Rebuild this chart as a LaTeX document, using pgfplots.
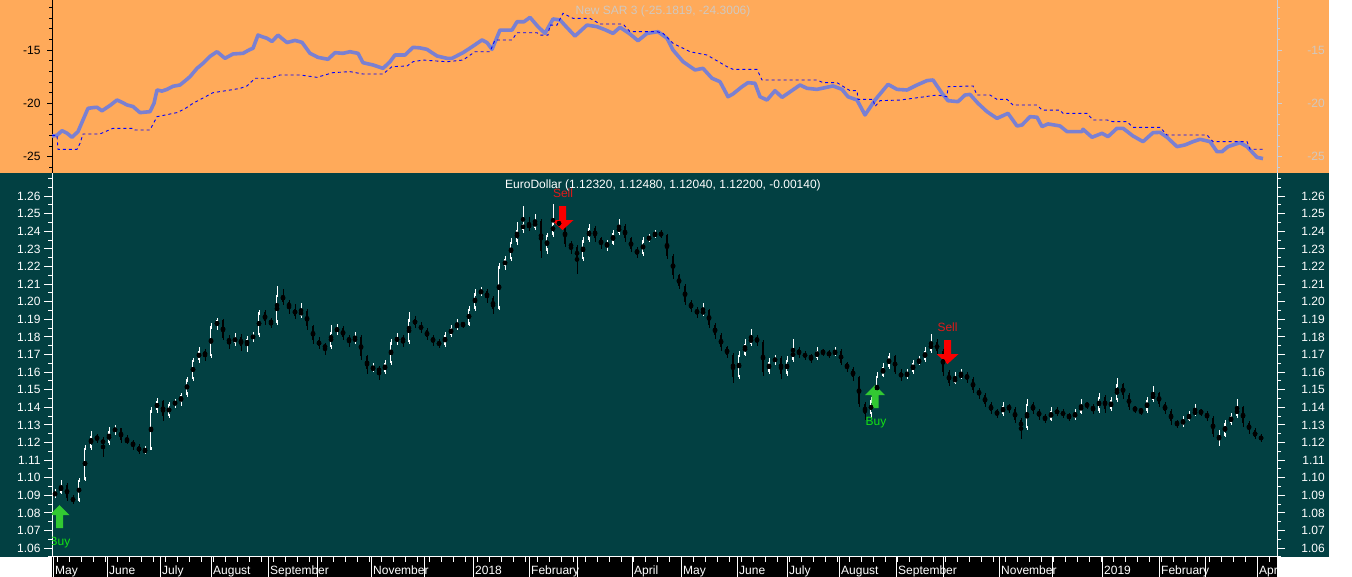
\documentclass[border=0pt]{standalone}
\usepackage{pgfplots}
\pgfplotsset{compat=1.18}
\usepackage{pgfplotstable}
\usepackage{fontspec}
\setmainfont{Liberation Sans}
\definecolor{bgorange}{RGB}{255,170,90}
\definecolor{bgteal}{RGB}{2,64,66}
\definecolor{sarline}{RGB}{122,128,210}
\definecolor{sardash}{RGB}{0,0,255}
\definecolor{greylab}{RGB}{208,200,192}
\definecolor{greyline}{RGB}{200,205,215}
\definecolor{buygreen}{RGB}{50,200,50}
\definecolor{buytext}{RGB}{20,225,20}
\definecolor{sellred}{RGB}{250,0,0}
\definecolor{selltext}{RGB}{225,25,25}

\pgfplotstableread{
x o h l c
55 1.0900 1.0935 1.0885 1.0915
61 1.0915 1.0985 1.0905 1.0960
67 1.0960 1.0970 1.0870 1.0885
73 1.0885 1.0900 1.0850 1.0870
79 1.0870 1.1000 1.0860 1.0990
85 1.0990 1.1185 1.0980 1.1170
91 1.1170 1.1265 1.1160 1.1240
97 1.1240 1.1250 1.1195 1.1215
103 1.1215 1.1230 1.1120 1.1195
109 1.1195 1.1290 1.1185 1.1265
115 1.1265 1.1300 1.1245 1.1280
121 1.1280 1.1285 1.1200 1.1215
127 1.1215 1.1245 1.1190 1.1205
133 1.1205 1.1215 1.1160 1.1180
139 1.1180 1.1190 1.1135 1.1145
145 1.1145 1.1180 1.1135 1.1160
151 1.1160 1.1400 1.1155 1.1385
157 1.1385 1.1455 1.1370 1.1435
163 1.1435 1.1440 1.1325 1.1350
169 1.1350 1.1430 1.1340 1.1420
175 1.1420 1.1450 1.1395 1.1430
181 1.1430 1.1480 1.1410 1.1470
187 1.1470 1.1575 1.1460 1.1560
193 1.1560 1.1680 1.1550 1.1670
199 1.1670 1.1745 1.1650 1.1720
205 1.1720 1.1730 1.1665 1.1690
211 1.1690 1.1880 1.1680 1.1860
217 1.1860 1.1910 1.1840 1.1895
223 1.1895 1.1900 1.1780 1.1795
229 1.1795 1.1810 1.1730 1.1765
235 1.1765 1.1820 1.1750 1.1800
241 1.1800 1.1815 1.1720 1.1750
247 1.1750 1.1805 1.1715 1.1790
253 1.1790 1.1830 1.1770 1.1810
259 1.1810 1.1955 1.1800 1.1940
265 1.1940 1.1950 1.1870 1.1890
271 1.1890 1.1905 1.1850 1.1880
277 1.1880 1.2090 1.1870 1.2040
283 1.2040 1.2070 1.1980 1.2000
289 1.2000 1.2010 1.1930 1.1960
295 1.1960 1.1985 1.1900 1.1920
301 1.1920 1.1990 1.1910 1.1950
307 1.1950 1.1960 1.1840 1.1860
313 1.1860 1.1870 1.1760 1.1780
319 1.1780 1.1800 1.1730 1.1750
325 1.1750 1.1765 1.1700 1.1740
331 1.1740 1.1865 1.1730 1.1830
337 1.1830 1.1875 1.1810 1.1850
343 1.1850 1.1860 1.1780 1.1800
349 1.1800 1.1810 1.1745 1.1770
355 1.1770 1.1830 1.1760 1.1800
361 1.1800 1.1810 1.1670 1.1690
367 1.1690 1.1700 1.1590 1.1615
373 1.1615 1.1650 1.1600 1.1625
379 1.1625 1.1635 1.1555 1.1600
385 1.1600 1.1670 1.1590 1.1650
391 1.1650 1.1790 1.1640 1.1770
397 1.1770 1.1820 1.1755 1.1800
403 1.1800 1.1810 1.1740 1.1770
409 1.1770 1.1940 1.1760 1.1900
415 1.1900 1.1920 1.1850 1.1870
421 1.1870 1.1885 1.1820 1.1840
427 1.1840 1.1850 1.1780 1.1800
433 1.1800 1.1810 1.1750 1.1770
439 1.1770 1.1790 1.1735 1.1755
445 1.1755 1.1830 1.1745 1.1810
451 1.1810 1.1870 1.1800 1.1850
457 1.1850 1.1900 1.1840 1.1875
463 1.1875 1.1885 1.1850 1.1870
469 1.1870 1.1975 1.1860 1.1960
475 1.1960 1.2070 1.1950 1.2050
481 1.2050 1.2085 1.2030 1.2060
487 1.2060 1.2070 1.1995 1.2020
493 1.2020 1.2030 1.1930 1.1960
499 1.1960 1.2220 1.1950 1.2200
505 1.2200 1.2260 1.2180 1.2240
511 1.2240 1.2360 1.2230 1.2340
517 1.2340 1.2450 1.2320 1.2410
523 1.2410 1.2545 1.2390 1.2440
529 1.2440 1.2480 1.2400 1.2420
535 1.2420 1.2500 1.2410 1.2460
541 1.2460 1.2470 1.2250 1.2290
547 1.2290 1.2390 1.2270 1.2380
553 1.2380 1.2555 1.2370 1.2450
559 1.2450 1.2470 1.2420 1.2440
565 1.2440 1.2450 1.2310 1.2330
571 1.2330 1.2345 1.2270 1.2310
577 1.2310 1.2320 1.2160 1.2240
583 1.2240 1.2370 1.2230 1.2350
589 1.2350 1.2440 1.2340 1.2420
595 1.2420 1.2430 1.2340 1.2360
601 1.2360 1.2370 1.2300 1.2320
607 1.2320 1.2350 1.2290 1.2330
613 1.2330 1.2410 1.2320 1.2390
619 1.2390 1.2470 1.2380 1.2430
625 1.2430 1.2440 1.2340 1.2360
631 1.2360 1.2370 1.2280 1.2300
637 1.2300 1.2310 1.2250 1.2270
643 1.2270 1.2365 1.2260 1.2350
649 1.2350 1.2385 1.2340 1.2370
655 1.2370 1.2410 1.2360 1.2390
661 1.2390 1.2405 1.2360 1.2380
667 1.2380 1.2385 1.2240 1.2260
673 1.2260 1.2270 1.2130 1.2150
679 1.2150 1.2160 1.2070 1.2090
685 1.2090 1.2100 1.1980 1.2000
691 1.2000 1.2010 1.1940 1.1960
697 1.1960 1.1970 1.1910 1.1930
703 1.1930 1.1990 1.1920 1.1950
709 1.1950 1.1960 1.1850 1.1870
715 1.1870 1.1880 1.1790 1.1810
721 1.1810 1.1820 1.1720 1.1740
727 1.1740 1.1750 1.1680 1.1700
733 1.1700 1.1710 1.1540 1.1570
739 1.1570 1.1720 1.1560 1.1700
745 1.1700 1.1790 1.1690 1.1760
751 1.1760 1.1845 1.1750 1.1800
757 1.1800 1.1810 1.1750 1.1770
763 1.1770 1.1780 1.1580 1.1600
769 1.1600 1.1680 1.1590 1.1660
775 1.1660 1.1700 1.1640 1.1680
781 1.1680 1.1690 1.1560 1.1590
787 1.1590 1.1690 1.1580 1.1670
793 1.1670 1.1790 1.1660 1.1730
799 1.1730 1.1740 1.1680 1.1700
805 1.1700 1.1720 1.1670 1.1690
811 1.1690 1.1705 1.1650 1.1680
817 1.1680 1.1740 1.1670 1.1720
823 1.1720 1.1730 1.1690 1.1710
829 1.1710 1.1725 1.1680 1.1700
835 1.1700 1.1740 1.1690 1.1720
841 1.1720 1.1730 1.1640 1.1650
847 1.1650 1.1660 1.1600 1.1620
853 1.1620 1.1630 1.1550 1.1570
859 1.1570 1.1580 1.1400 1.1420
865 1.1420 1.1430 1.1330 1.1360
871 1.1360 1.1460 1.1340 1.1440
877 1.1440 1.1600 1.1430 1.1580
883 1.1580 1.1650 1.1570 1.1630
889 1.1630 1.1710 1.1620 1.1690
895 1.1690 1.1700 1.1590 1.1600
901 1.1600 1.1615 1.1550 1.1570
907 1.1570 1.1620 1.1560 1.1600
913 1.1600 1.1670 1.1590 1.1650
919 1.1650 1.1690 1.1640 1.1670
925 1.1670 1.1740 1.1660 1.1720
931 1.1720 1.1815 1.1710 1.1770
937 1.1770 1.1790 1.1700 1.1720
943 1.1720 1.1730 1.1580 1.1600
949 1.1600 1.1610 1.1520 1.1540
955 1.1540 1.1600 1.1530 1.1570
961 1.1570 1.1620 1.1560 1.1590
967 1.1590 1.1600 1.1540 1.1560
973 1.1560 1.1570 1.1480 1.1500
979 1.1500 1.1510 1.1450 1.1470
985 1.1470 1.1480 1.1400 1.1420
991 1.1420 1.1430 1.1360 1.1380
997 1.1380 1.1390 1.1340 1.1360
1003 1.1360 1.1430 1.1350 1.1410
1009 1.1410 1.1420 1.1370 1.1390
1015 1.1390 1.1400 1.1310 1.1330
1021 1.1330 1.1340 1.1220 1.1280
1027 1.1280 1.1450 1.1270 1.1420
1033 1.1420 1.1430 1.1360 1.1380
1039 1.1380 1.1390 1.1330 1.1350
1045 1.1350 1.1360 1.1310 1.1330
1051 1.1330 1.1400 1.1320 1.1380
1057 1.1380 1.1400 1.1350 1.1370
1063 1.1370 1.1390 1.1340 1.1360
1069 1.1360 1.1370 1.1320 1.1340
1075 1.1340 1.1390 1.1330 1.1370
1081 1.1370 1.1450 1.1360 1.1420
1087 1.1420 1.1430 1.1390 1.1410
1093 1.1410 1.1420 1.1360 1.1380
1099 1.1380 1.1480 1.1370 1.1460
1105 1.1460 1.1470 1.1370 1.1390
1111 1.1390 1.1460 1.1380 1.1440
1117 1.1440 1.1565 1.1430 1.1530
1123 1.1530 1.1540 1.1450 1.1470
1129 1.1470 1.1480 1.1385 1.1400
1135 1.1400 1.1410 1.1365 1.1385
1141 1.1385 1.1395 1.1355 1.1380
1147 1.1380 1.1460 1.1370 1.1440
1153 1.1440 1.1520 1.1430 1.1480
1159 1.1480 1.1490 1.1400 1.1420
1165 1.1420 1.1430 1.1360 1.1380
1171 1.1380 1.1390 1.1300 1.1320
1177 1.1320 1.1330 1.1280 1.1300
1183 1.1300 1.1350 1.1290 1.1330
1189 1.1330 1.1380 1.1320 1.1360
1195 1.1360 1.1420 1.1350 1.1380
1201 1.1380 1.1390 1.1350 1.1370
1207 1.1370 1.1380 1.1320 1.1340
1213 1.1340 1.1350 1.1230 1.1250
1219 1.1220 1.1270 1.1180 1.1240
1225 1.1240 1.1330 1.1230 1.1310
1231 1.1310 1.1370 1.1300 1.1350
1237 1.1350 1.1450 1.1340 1.1400
1243 1.1400 1.1410 1.1290 1.1310
1249 1.1310 1.1320 1.1250 1.1270
1255 1.1270 1.1280 1.1220 1.1230
1261 1.1232 1.1248 1.1204 1.1220
}\candles

\pgfplotstableread{
x v
52 -23.06
57 -23.00
62 -22.56
67 -22.80
72 -23.18
78 -22.65
83 -21.56
88 -20.47
93 -20.40
97 -20.37
102 -20.70
110 -20.20
117 -19.69
122 -19.90
127 -20.15
133 -20.30
140 -20.87
150 -20.78
154 -20.00
157 -18.75
162 -18.85
167 -18.69
173 -18.40
180 -18.28
185 -17.90
190 -17.50
197 -16.72
203 -16.25
210 -15.60
217 -15.16
225 -15.78
233 -15.37
243 -15.31
250 -14.95
253 -14.84
258 -13.60
262 -13.75
267 -13.90
272 -14.20
278 -13.60
283 -14.00
287 -14.30
295 -14.10
302 -14.28
310 -15.31
318 -15.69
328 -15.87
335 -15.25
343 -15.31
350 -15.16
358 -15.31
363 -16.19
373 -16.40
383 -16.72
390 -16.10
395 -15.47
405 -15.47
413 -14.75
420 -14.80
427 -14.94
437 -15.56
447 -15.78
452 -15.78
463 -15.25
472 -14.70
482 -14.06
487 -14.30
492 -14.94
500 -13.13
512 -13.13
517 -12.35
524 -12.35
530 -11.94
538 -12.81
545 -13.44
553 -12.09
560 -12.18
567 -12.90
575 -13.69
587 -12.66
597 -12.81
605 -13.10
613 -13.44
620 -12.87
630 -13.50
638 -14.13
647 -13.44
658 -13.28
667 -13.90
673 -15.00
683 -16.09
695 -16.87
703 -16.72
712 -17.65
720 -17.97
728 -19.38
733 -19.12
742 -18.44
748 -18.06
755 -18.12
760 -19.38
767 -19.69
775 -18.81
782 -19.44
787 -19.12
800 -18.28
807 -18.59
817 -18.69
833 -18.37
842 -18.69
848 -19.38
857 -19.69
865 -21.09
875 -19.69
888 -18.22
897 -18.69
907 -18.75
917 -18.28
927 -17.87
933 -17.81
942 -19.06
948 -19.75
958 -19.84
965 -19.22
970 -19.16
978 -20.00
987 -20.78
997 -21.41
1008 -20.94
1017 -22.12
1022 -22.03
1030 -21.25
1037 -21.30
1042 -22.18
1048 -21.93
1060 -22.12
1067 -22.65
1082 -22.65
1083 -22.43
1092 -23.18
1102 -22.81
1108 -23.12
1117 -22.34
1123 -22.34
1133 -23.06
1143 -23.59
1153 -22.75
1160 -22.72
1167 -23.18
1177 -24.06
1185 -23.90
1193 -23.59
1200 -23.37
1210 -23.59
1217 -24.53
1222 -24.53
1228 -24.06
1240 -23.68
1247 -24.06
1257 -25.06
1263 -25.18
}\sarval

\pgfplotstableread{
x v
52 -23.00
57 -23.00
58 -24.31
77 -24.31
80 -23.75
83 -22.87
100 -22.87
113 -22.34
133 -22.34
135 -22.50
150 -22.50
157 -21.25
177 -20.87
185 -20.50
193 -20.00
203 -19.50
213 -19.00
227 -18.80
240 -18.60
247 -18.37
255 -17.65
270 -17.65
280 -17.34
300 -17.34
317 -17.56
333 -17.12
350 -17.03
363 -17.25
383 -17.25
392 -16.56
407 -16.50
413 -16.10
423 -15.94
447 -16.10
463 -15.94
475 -15.16
490 -15.16
495 -14.06
512 -14.06
517 -13.38
537 -13.38
540 -13.60
548 -13.60
550 -12.66
557 -12.66
563 -11.56
573 -12.03
590 -12.03
600 -12.56
623 -12.56
630 -13.28
657 -13.28
663 -13.44
673 -14.37
690 -15.16
707 -15.47
727 -16.56
733 -16.81
757 -16.81
762 -17.81
817 -17.81
823 -18.06
837 -18.06
850 -18.81
857 -18.81
858 -19.63
873 -19.63
875 -20.30
880 -19.75
900 -19.69
920 -19.44
937 -19.22
947 -19.38
948 -18.44
973 -18.37
977 -19.22
990 -19.22
997 -19.63
1007 -19.63
1013 -20.16
1037 -20.16
1042 -20.63
1060 -20.63
1063 -20.94
1087 -20.94
1093 -21.56
1107 -21.56
1113 -21.72
1127 -21.72
1133 -22.25
1160 -22.25
1167 -22.97
1207 -22.97
1213 -23.59
1247 -23.59
1250 -24.30
1263 -24.30
}\sardots

\pgfplotsset{
  panel/.style={scale only axis, width=1225pt, xmin=52, xmax=1277, anchor=south west,
    tick label style={font=\fontsize{12}{14}\selectfont}},
  cbar/.style 2 args={only marks, mark=none, forget plot,
    error bars/.cd, y dir=both, y explicit, error mark=none,
    error bar style={draw=#1, line width=#2}},
}

\begin{document}
\begin{tikzpicture}
\useasboundingbox (0pt,0pt) rectangle (1352pt,577pt);
\fill[bgorange] (0pt,404pt) rectangle (1329pt,577pt);
\fill[bgteal] (0pt,20pt) rectangle (1329pt,404pt);

% date strip
\begin{axis}[panel, at={(52pt,0pt)}, height=20pt, ymin=0, ymax=1,
  axis background/.style={fill=black},
  axis x line*=top, axis y line=none, axis line style={white, line width=1pt, -},
  ytick=\empty,
  xtick={53,107,160,211,268,317,371,424,473,529,577,632,681,737,787,839,896,943,999,1052,1102,1159,1205,1257},
  xticklabels={May,June,July,August,September,,November,,2018,February,,April,May,June,July,August,September,,November,,2019,February,,Apr},
  xtick pos=upper, xticklabel pos=lower,
  minor xtick={57,69,...,1275},
  tick align=inside, major tick length=0pt, minor tick length=5pt,
  xmajorgrids, major grid style={white, line width=1pt},
  minor tick style={white, line width=1pt},
  xticklabel style={anchor=base west, inner sep=0pt, xshift=2pt, yshift=-18pt, text=white},
]
\end{axis}

% price panel
\begin{axis}[panel, at={(52pt,20pt)}, height=384pt, ymin=1.055, ymax=1.2731,
  axis x line*=bottom, axis y line*=left, axis line style={white, line width=1pt, -},
  xtick=\empty,
  ytick={1.06,1.07,1.08,1.09,1.10,1.11,1.12,1.13,1.14,1.15,1.16,1.17,1.18,1.19,1.20,1.21,1.22,1.23,1.24,1.25,1.26},
  yticklabels={1.06,1.07,1.08,1.09,1.10,1.11,1.12,1.13,1.14,1.15,1.16,1.17,1.18,1.19,1.20,1.21,1.22,1.23,1.24,1.25,1.26},
  minor ytick={1.055,1.065,1.075,1.085,1.095,1.105,1.115,1.125,1.135,1.145,1.155,1.165,1.175,1.185,1.195,1.205,1.215,1.225,1.235,1.245,1.255,1.265,1.27},
  ytick pos=left, tick align=outside, major tick length=8pt, minor tick length=4pt,
  tick style={white, line width=1pt},
  yticklabel style={text=white},
]
\addplot[cbar={black}{1pt}] table[x=x, y expr={(\thisrow{h}+\thisrow{l})/2}, y error expr={(\thisrow{c}<\thisrow{o})*(\thisrow{h}-\thisrow{l})/2}] {\candles};
\addplot[cbar={black}{2.8pt}] table[x=x, y expr={(\thisrow{o}+\thisrow{c})/2}, y error expr={(\thisrow{c}<\thisrow{o})*max(\thisrow{o}-\thisrow{c},0.0005)/2}] {\candles};
\addplot[cbar={white}{1pt}] table[x=x, y expr={(\thisrow{h}+\thisrow{l})/2}, y error expr={(\thisrow{c}>=\thisrow{o})*(\thisrow{h}-\thisrow{l})/2}] {\candles};
\addplot[cbar={white}{2.8pt}] table[x=x, y expr={(\thisrow{o}+\thisrow{c})/2}, y error expr={(\thisrow{c}>=\thisrow{o})*max(\thisrow{c}-\thisrow{o},0.0005)/2}] {\candles};
\addplot[cbar={bgteal}{0.7pt}] table[x=x, y expr={(\thisrow{o}+\thisrow{c})/2}, y error expr={(\thisrow{c}>=\thisrow{o})*max(\thisrow{c}-\thisrow{o}-0.0030,0)/2}] {\candles};

% signals
\fill[sellred] (axis cs:562.5,1.24069) -- ++(11pt,10pt) -- ++(-7.5pt,0pt) -- ++(0pt,14pt) -- ++(-7pt,0pt) -- ++(0pt,-14pt) -- ++(-7.5pt,0pt) -- cycle;
\fill[sellred] (axis cs:947.5,1.16460) -- ++(11pt,10pt) -- ++(-7.5pt,0pt) -- ++(0pt,14pt) -- ++(-7pt,0pt) -- ++(0pt,-14pt) -- ++(-7.5pt,0pt) -- cycle;
\fill[buygreen] (axis cs:59.5,1.08453) -- ++(10pt,-10pt) -- ++(-6.5pt,0pt) -- ++(0pt,-13pt) -- ++(-7pt,0pt) -- ++(0pt,13pt) -- ++(-6.5pt,0pt) -- cycle;
\fill[buygreen] (axis cs:875,1.15267) -- ++(10pt,-10pt) -- ++(-6.5pt,0pt) -- ++(0pt,-13pt) -- ++(-7pt,0pt) -- ++(0pt,13pt) -- ++(-6.5pt,0pt) -- cycle;
\node[text=selltext, font=\fontsize{12}{14}\selectfont, inner sep=0pt] at (axis cs:563,1.2614) {Sell};
\node[text=selltext, font=\fontsize{12}{14}\selectfont, inner sep=0pt] at (axis cs:947.5,1.18533) {Sell};
\node[text=buytext, font=\fontsize{12}{14}\selectfont, inner sep=0pt] at (axis cs:60,1.06295) {Buy};
\node[text=buytext, font=\fontsize{12}{14}\selectfont, inner sep=0pt] at (axis cs:876,1.1311) {Buy};
\node[text=white, font=\fontsize{12}{14}\selectfont, inner sep=0pt] at (axis cs:663,1.26625) {EuroDollar (1.12320, 1.12480, 1.12040, 1.12200, -0.00140)};
\end{axis}

% price panel, right scale
\begin{axis}[panel, at={(52pt,20pt)}, height=384pt, ymin=1.055, ymax=1.2731,
  axis x line=none, axis y line*=right, axis line style={white, line width=1pt, -},
  xtick=\empty,
  ytick={1.06,1.07,1.08,1.09,1.10,1.11,1.12,1.13,1.14,1.15,1.16,1.17,1.18,1.19,1.20,1.21,1.22,1.23,1.24,1.25,1.26},
  yticklabels={1.06,1.07,1.08,1.09,1.10,1.11,1.12,1.13,1.14,1.15,1.16,1.17,1.18,1.19,1.20,1.21,1.22,1.23,1.24,1.25,1.26},
  minor ytick={1.055,1.065,1.075,1.085,1.095,1.105,1.115,1.125,1.135,1.145,1.155,1.165,1.175,1.185,1.195,1.205,1.215,1.225,1.235,1.245,1.255,1.265,1.27},
  ytick pos=right, yticklabel pos=right, tick align=outside, major tick length=8pt, minor tick length=4pt,
  tick style={white, line width=1pt},
  yticklabel style={text=white, anchor=east, inner sep=0pt, xshift=40pt},
]
\end{axis}

% indicator panel
\begin{axis}[panel, at={(52pt,404pt)}, height=173pt, ymin=-26.53, ymax=-10.31,
  axis x line=none, axis y line*=left, axis line style={black, line width=1pt, -},
  xtick=\empty,
  ytick={-25,-20,-15}, yticklabels={-25,-20,-15},
  minor ytick={-26,-24,-23,-22,-21,-19,-18,-17,-16,-14,-13,-12,-11},
  ytick pos=left, tick align=outside, major tick length=5pt, minor tick length=3pt,
  tick style={black, line width=1pt},
  yticklabel style={text=black, xshift=-3pt},
]
\addplot[sarline, line width=3.6pt, line join=round, mark=none] table[x=x, y=v] {\sarval};
\addplot[sardash, line width=0.9pt, dash pattern=on 3pt off 3pt, mark=none] table[x=x, y=v] {\sardots};
\node[text=greylab, font=\fontsize{12}{14}\selectfont, inner sep=0pt] at (axis cs:663,-11.35) {New SAR 3 (-25.1819, -24.3006)};
\end{axis}

% indicator panel, right scale
\begin{axis}[panel, at={(52pt,404pt)}, height=173pt, ymin=-26.53, ymax=-10.31,
  axis x line=none, axis y line*=right, axis line style={greyline, line width=1pt, -},
  xtick=\empty,
  ytick={-25,-20,-15}, yticklabels={-25,-20,-15},
  minor ytick={-26,-24,-23,-22,-21,-19,-18,-17,-16,-14,-13,-12,-11},
  ytick pos=right, yticklabel pos=right, tick align=outside, major tick length=5pt, minor tick length=3pt,
  tick style={greyline, line width=1pt},
  yticklabel style={text=greylab, anchor=east, inner sep=0pt, xshift=43pt},
]
\end{axis}
\end{tikzpicture}
\end{document}
